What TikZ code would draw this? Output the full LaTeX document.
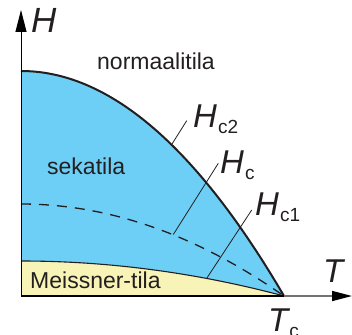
\documentclass[tikz,border=0pt]{standalone}
\usepackage{fontspec}
\setmainfont{Liberation Sans}
\usetikzlibrary{arrows.meta}
\definecolor{sky}{RGB}{109,207,246}
\definecolor{cream}{RGB}{248,243,183}
\definecolor{ink}{RGB}{35,31,32}
\definecolor{axisgray}{RGB}{115,115,115}
\newcommand\qlab[3]{\fontsize{#1}{#1}\selectfont\itshape #2\upshape\kern1pt\fontsize{19}{19}\selectfont\raisebox{-6pt}{#3}}
\begin{document}
\begin{tikzpicture}[x=1pt,y=-1pt,
  lbl/.style={inner sep=0pt, anchor=base west, text=ink},
  txt/.style={lbl, font=\fontsize{23}{23}\selectfont},
  leader/.style={ink, line width=0.8pt},
  critline/.style={ink, line width=2pt},
  lowline/.style={ink, line width=1.1pt},
  midline/.style={ink, line width=1.3pt, dash pattern=on 10pt off 8pt}
]
\useasboundingbox (0,0) rectangle (352,334);
% regions
\fill[sky] (21,296) -- (21,71) -- plot[domain=0:263,samples=80] ({21+\x},{296-225*(1-(\x/263)^2)}) -- cycle;
\fill[cream] (21,296) -- (21,261) -- plot[domain=0:263,samples=80] ({21+\x},{296-35*(1-(\x/263)^2)}) -- cycle;
% curves
\draw[lowline] plot[domain=0:263,samples=80] ({21+\x},{296-35*(1-(\x/263)^2)});
\draw[midline] plot[domain=0:263,samples=80] ({21+\x},{296-92*(1-(\x/263)^2)});
\draw[critline] plot[domain=0:263,samples=80] ({21+\x},{296-225*(1-(\x/263)^2)});
% axes
\coordinate (O) at (21,296);
\coordinate (Tcp) at (284,296);
\coordinate (Xend) at (352,296);
\coordinate (Yend) at (21,10);
\draw[line width=1pt, -{Triangle[length=22pt,width=11pt]}] (O) -- (Yend);
\draw[axisgray, line width=1.5pt, -{Triangle[length=20pt,width=10pt,fill=black,color=black]}] (Tcp) -- (Xend);
\draw[black, line width=2.5pt] (O) -- (Tcp);
% leaders
\coordinate (c2a) at (171.7,144.5);
\coordinate (c2b) at (186.7,120.7);
\coordinate (ca) at (173.3,234.5);
\coordinate (cb) at (218.3,163.3);
\coordinate (c1a) at (206.7,278.3);
\coordinate (c1b) at (251.7,210);
\draw[leader] (c2a) -- (c2b);
\draw[leader] (ca) -- (cb);
\draw[leader] (c1a) -- (c1b);
% labels
\node[lbl, font=\fontsize{35}{35}\selectfont\itshape] (Hax) at (31,33) {H};
\node[lbl, font=\fontsize{33}{33}\selectfont\itshape] (Tax) at (323,282) {T};
\node[lbl] (Tc) at (268,331) {\qlab{33}{T}{c}};
\node[lbl] (lHc2) at (193,127) {\qlab{33}{H}{c2}};
\node[lbl] (lHc) at (220,173) {\qlab{33}{H}{c}};
\node[lbl] (lHc1) at (255,215) {\qlab{33}{H}{c1}};
\node[txt] (norm) at (97,70) {normaalitila};
\node[txt] (seka) at (47,174) {sekatila};
\node[txt] (meis) at (30,288) {Meissner-tila};
\end{tikzpicture}
\end{document}
